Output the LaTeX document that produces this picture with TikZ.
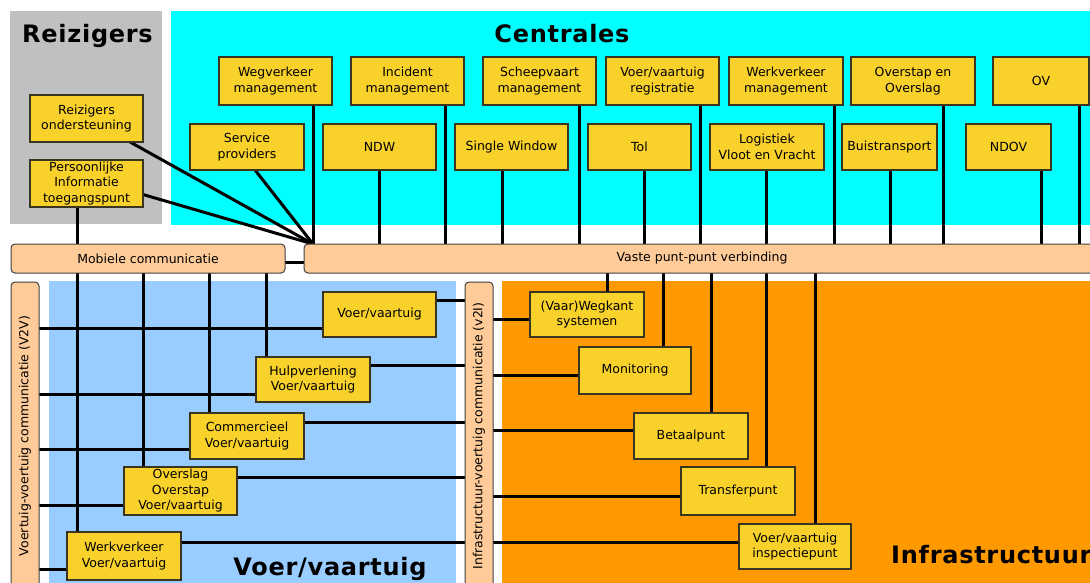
\documentclass[tikz,border=0pt]{standalone}
\usepackage{fontspec}
\setmainfont{DejaVu Sans}
\newfontfamily\titlefont[LetterSpace=3]{DejaVu Sans}

\definecolor{boxfill}{HTML}{F9D12B}
\definecolor{boxline}{HTML}{3A3520}
\definecolor{barfill}{HTML}{FFCC99}
\definecolor{barline}{HTML}{404040}
\definecolor{reisbg}{HTML}{C0C0C0}
\definecolor{centbg}{HTML}{00FFFF}
\definecolor{voerbg}{HTML}{99CCFF}
\definecolor{infrabg}{HTML}{FF9900}

\pgfdeclarelayer{areas}
\pgfdeclarelayer{wires}
\pgfsetlayers{areas,wires,main}

\tikzset{
  box/.style={draw=boxline, line width=1.2pt, fill=boxfill, align=center,
    inner sep=0pt, outer sep=0pt, font=\fontsize{12.5}{15.5}\selectfont},
  bar/.style={draw=barline, line width=1pt, fill=barfill, rounded corners=4pt,
    inner sep=0pt, outer sep=0pt, font=\fontsize{12.5}{15.5}\selectfont},
  wire/.style={line width=3pt, black},
  title/.style={font=\titlefont\fontsize{24}{28}\selectfont\bfseries,
    inner sep=0pt, anchor=base},
}

% \rbox[style]{name}{x1}{y1}{x2}{y2}{text}: node filling the given rectangle
\newcommand\rbox[7][box]{%
  \node[#1, minimum width={#5-#3}, minimum height={#6-#4}] (#2)
    at ({(#3+#5)/2},{(#4+#6)/2}) {#7};}

\begin{document}
\begin{tikzpicture}[x=1pt,y=-1pt]
\useasboundingbox (0,0) rectangle (1090,583);

% coloured domains
\begin{pgfonlayer}{areas}
  \fill[reisbg]  (10,11)  rectangle (162,224);
  \fill[centbg]  (171,11) rectangle (1100,225);
  \fill[voerbg]  (49,281) rectangle (456,590);
  \fill[infrabg] (502,281) rectangle (1100,590);
\end{pgfonlayer}

% domain titles
\node[title] (tReis)  at (87.5,43) {Reizigers};
\node[title] (tCent)  at (562,43)  {Centrales};
\node[title] (tVoer)  at (330,575) {Voer/vaartuig};
\node[title, anchor=base west] (tInfra) at (891,563) {Infrastructuur};

% communication bars
\rbox[bar]{mob}{11}{244}{285}{273}{Mobiele communicatie}
\rbox[bar]{vaste}{304}{244}{1100}{273}{Vaste punt-punt verbinding}
\node[bar, rotate=90, minimum width=308, minimum height=28] (v2v) at (25,436)
  {Voertuig-voertuig communicatie (V2V)};
\node[bar, rotate=90, minimum width=308, minimum height=28] (v2i) at (479,436)
  {Infrastructuur-voertuig communicatie (v2I)};

% travellers
\rbox{rzo}{30}{95}{143}{142}{Reizigers\\ondersteuning}
\rbox{pit}{30}{160}{143}{207}{Persoonlijke\\Informatie\\toegangspunt}

% control centres, upper row
\rbox{weg}{219}{57}{332}{105}{Wegverkeer\\management}
\rbox{inc}{351}{57}{464}{105}{Incident\\management}
\rbox{sch}{483}{57}{596}{105}{Scheepvaart\\management}
\rbox{reg}{606}{57}{719}{105}{Voer/vaartuig\\registratie}
\rbox{wrk}{729}{57}{843}{105}{Werkverkeer\\management}
\rbox{ovs}{851}{57}{975}{105}{Overstap en\\Overslag}
\rbox{ov}{993}{57}{1089}{105}{OV}

% control centres, lower row
\rbox{svc}{190}{124}{304}{170}{Service\\providers}
\rbox{ndw}{323}{124}{436}{170}{NDW}
\rbox{sw}{455}{124}{568}{170}{Single Window}
\rbox{tol}{588}{124}{691}{170}{Tol}
\rbox{log}{710}{124}{824}{170}{Logistiek\\Vloot en Vracht}
\rbox{bui}{842}{124}{937}{170}{Buistransport}
\rbox{ndov}{966}{124}{1051}{170}{NDOV}

% vehicles
\rbox{vv}{323}{292}{436}{337}{Voer/vaartuig}
\rbox{hulp}{256}{357}{370}{402}{Hulpverlening\\Voer/vaartuig}
\rbox{com}{190}{413}{304}{459}{Commercieel\\Voer/vaartuig}
\rbox{ovl}{124}{467}{237}{515}{Overslag\\Overstap\\Voer/vaartuig}
\rbox{wvv}{67}{532}{181}{580}{Werkverkeer\\Voer/vaartuig}

% infrastructure
\rbox{wk}{530}{292}{644}{337}{(Vaar)Wegkant\\systemen}
\rbox{mon}{579}{347}{691}{394}{Monitoring}
\rbox{bet}{634}{413}{748}{459}{Betaalpunt}
\rbox{trf}{681}{467}{795}{515}{Transferpunt}
\rbox{insp}{739}{524}{851}{569}{Voer/vaartuig\\inspectiepunt}

\begin{pgfonlayer}{wires}
  % centres down to the fixed network
  \foreach \n/\x in {weg/313,inc/445,sch/579,reg/700,wrk/834,ovs/943,ov/1079,
                     ndw/379,sw/502,tol/644,log/766,bui/890,ndov/1041}{
    \coordinate (k) at (\x,0);
    \draw[wire] (\n.south -| k) -- (vaste.north -| k);
  }
  % traveller services join the fixed network in one point
  \coordinate (hub) at (313,244);
  \coordinate (ks) at (255,0);
  \draw[wire] (svc.south -| ks) -- (hub);
  \coordinate (kr) at (130,0);
  \draw[wire] (rzo.south -| kr) -- (hub);
  \coordinate (kp) at (0,194.5);
  \draw[wire] (pit.east |- kp) -- (hub);
  \coordinate (km) at (77,0);
  \draw[wire] (pit.south -| km) -- (mob.north -| km);
  % link between mobile and fixed network
  \coordinate (kl) at (0,262);
  \draw[wire] (mob.east |- kl) -- (vaste.west |- kl);

  % mobile network down to the vehicles
  \foreach \n/\x in {wvv/77,ovl/143,com/209,hulp/266}{
    \coordinate (k) at (\x,0);
    \draw[wire] (mob.south -| k) -- (\n.north -| k);
  }
  % fixed network down to the infrastructure
  \foreach \n/\x in {wk/607,mon/663,bet/711,trf/766,insp/815}{
    \coordinate (k) at (\x,0);
    \draw[wire] (vaste.south -| k) -- (\n.north -| k);
  }
  % V2V links
  \foreach \n/\y in {vv/328,hulp/394,com/449,ovl/505,wvv/569}{
    \coordinate (k) at (0,\y);
    \draw[wire] (v2v.south |- k) -- (\n.west |- k);
  }
  % vehicles to the V2I bar
  \foreach \n/\y in {vv/300,hulp/365,com/422,ovl/477,wvv/542}{
    \coordinate (k) at (0,\y);
    \draw[wire] (\n.east |- k) -- (v2i.north |- k);
  }
  % V2I bar to the infrastructure
  \foreach \n/\y in {wk/319,mon/375,bet/430,trf/496,insp/542}{
    \coordinate (k) at (0,\y);
    \draw[wire] (v2i.south |- k) -- (\n.west |- k);
  }
\end{pgfonlayer}
\end{tikzpicture}
\end{document}
